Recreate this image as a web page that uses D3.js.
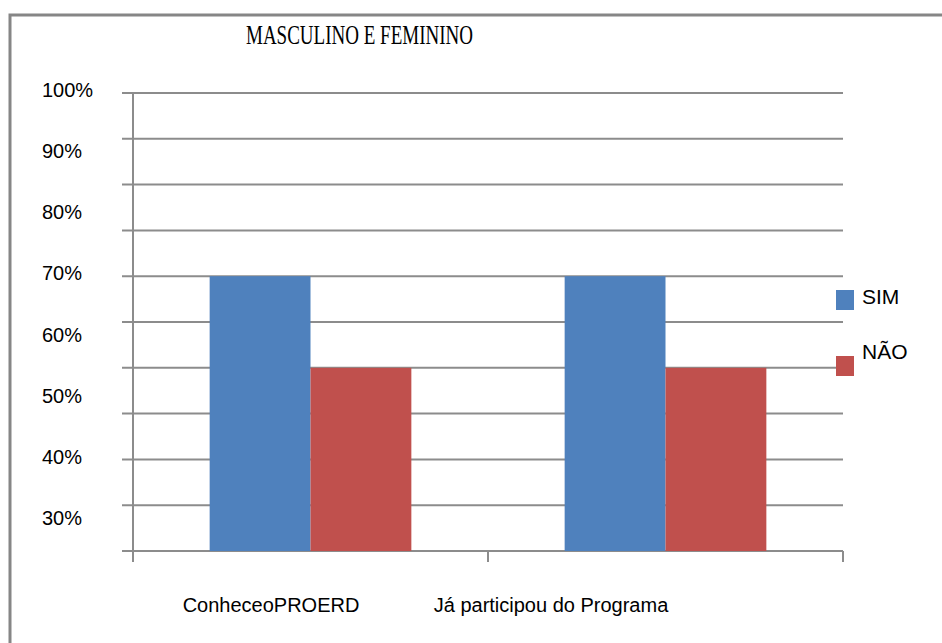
<!DOCTYPE html>
<html>
<head>
<meta charset="utf-8">
<script src="https://cdn.jsdelivr.net/npm/d3@7"></script>
<style>
  body { margin: 0; background: #fff; }
  svg text { font-family: "Liberation Sans", Arial, sans-serif; fill: #000; }
</style>
</head>
<body>
<svg id="chart"></svg>
<script>
// data
const categories = ["ConheceoPROERD", "Já participou do Programa"];
const seriesNames = ["SIM", "NÃO"];
const simValues = [0.6, 0.6];
const naoValues = [0.4, 0.4];
const tickLabels = ["100%", "90%", "80%", "70%", "60%", "50%", "40%", "30%"];
const gridSteps = d3.range(0, 1.0001, 0.1);

const config = {
  width: 942,
  height: 643,
  margin: { top: 93, right: 99, bottom: 92, left: 133 },
  colors: ["#4F81BD", "#C0504D"],
  grid: "#8c8c8c"
};

const innerW = config.width - config.margin.left - config.margin.right;
const innerH = config.height - config.margin.top - config.margin.bottom;

const svg = d3.select("#chart")
  .attr("width", config.width)
  .attr("height", config.height);

// outer frame (top and left edges only are visible)
svg.append("path")
  .attr("d", "M10,643 V15 H942")
  .attr("fill", "none")
  .attr("stroke", "#868686")
  .attr("stroke-width", 3);

svg.append("text")
  .attr("x", 246)
  .attr("y", 44)
  .attr("textLength", 227)
  .attr("lengthAdjust", "spacingAndGlyphs")
  .style("font-family", "'Liberation Serif', 'Times New Roman', serif")
  .style("font-size", "28px")
  .text("MASCULINO E FEMININO");

const g = svg.append("g")
  .attr("transform", `translate(${config.margin.left},${config.margin.top})`);

const y = d3.scaleLinear().domain([0, 1]).range([innerH, 0]);
const x = d3.scaleBand().domain(categories).range([0, innerW]).paddingInner(0).paddingOuter(0);
const xSub = d3.scaleBand().domain(seriesNames).range([0, x.bandwidth()]).paddingInner(0).paddingOuter(0.76);

// gridlines
g.selectAll(".grid")
  .data(gridSteps)
  .join("line")
    .attr("class", "grid")
    .attr("x1", -11)
    .attr("x2", innerW)
    .attr("y1", d => y(d))
    .attr("y2", d => y(d))
    .attr("stroke", config.grid)
    .attr("stroke-width", 2);

// bars
const rows = categories.map((c, i) => ({ cat: c, vals: [simValues[i], naoValues[i]] }));
g.selectAll(".group")
  .data(rows)
  .join("g")
    .attr("class", "group")
    .attr("transform", d => `translate(${x(d.cat)},0)`)
  .selectAll("rect")
  .data(d => d.vals.map((v, j) => ({ name: seriesNames[j], v, j })))
  .join("rect")
    .attr("x", d => xSub(d.name))
    .attr("width", xSub.bandwidth())
    .attr("y", d => y(d.v))
    .attr("height", d => y(0) - y(d.v))
    .attr("fill", d => config.colors[d.j]);

// y axis line
g.append("line")
  .attr("x1", 0).attr("x2", 0)
  .attr("y1", 0).attr("y2", innerH + 11)
  .attr("stroke", config.grid)
  .attr("stroke-width", 2);

// x category tick marks
const xTicks = [0, ...categories.map(c => x(c) + x.bandwidth())];
g.selectAll(".xtick")
  .data(xTicks)
  .join("line")
    .attr("class", "xtick")
    .attr("x1", d => d).attr("x2", d => d)
    .attr("y1", innerH).attr("y2", innerH + 11)
    .attr("stroke", config.grid)
    .attr("stroke-width", 2);

// y tick labels (placed as in the source, not on the gridlines)
const yLabel = d3.scalePoint().domain(tickLabels).range([90, 518]);
svg.selectAll(".ylab")
  .data(tickLabels)
  .join("text")
    .attr("class", "ylab")
    .attr("x", 42)
    .attr("y", d => yLabel(d))
    .attr("dy", "0.35em")
    .style("font-size", "20px")
    .text(d => d);

// x labels
const xLabel = d3.scalePoint().domain(categories).range([271, 551]);
svg.selectAll(".xlab")
  .data(categories)
  .join("text")
    .attr("class", "xlab")
    .attr("x", d => xLabel(d))
    .attr("y", 612)
    .attr("text-anchor", "middle")
    .style("font-size", "20px")
    .text(d => d);

// legend
const legend = svg.selectAll(".legend")
  .data(seriesNames)
  .join("g")
    .attr("class", "legend")
    .attr("transform", (d, i) => `translate(836,${290 + i * 66})`);
legend.append("rect")
  .attr("width", 18)
  .attr("height", 20)
  .attr("fill", (d, i) => config.colors[i]);
legend.append("text")
  .attr("x", 26)
  .attr("y", (d, i) => i === 0 ? 14 : 3)
  .style("font-size", "21px")
  .text(d => d);
</script>
</body>
</html>
